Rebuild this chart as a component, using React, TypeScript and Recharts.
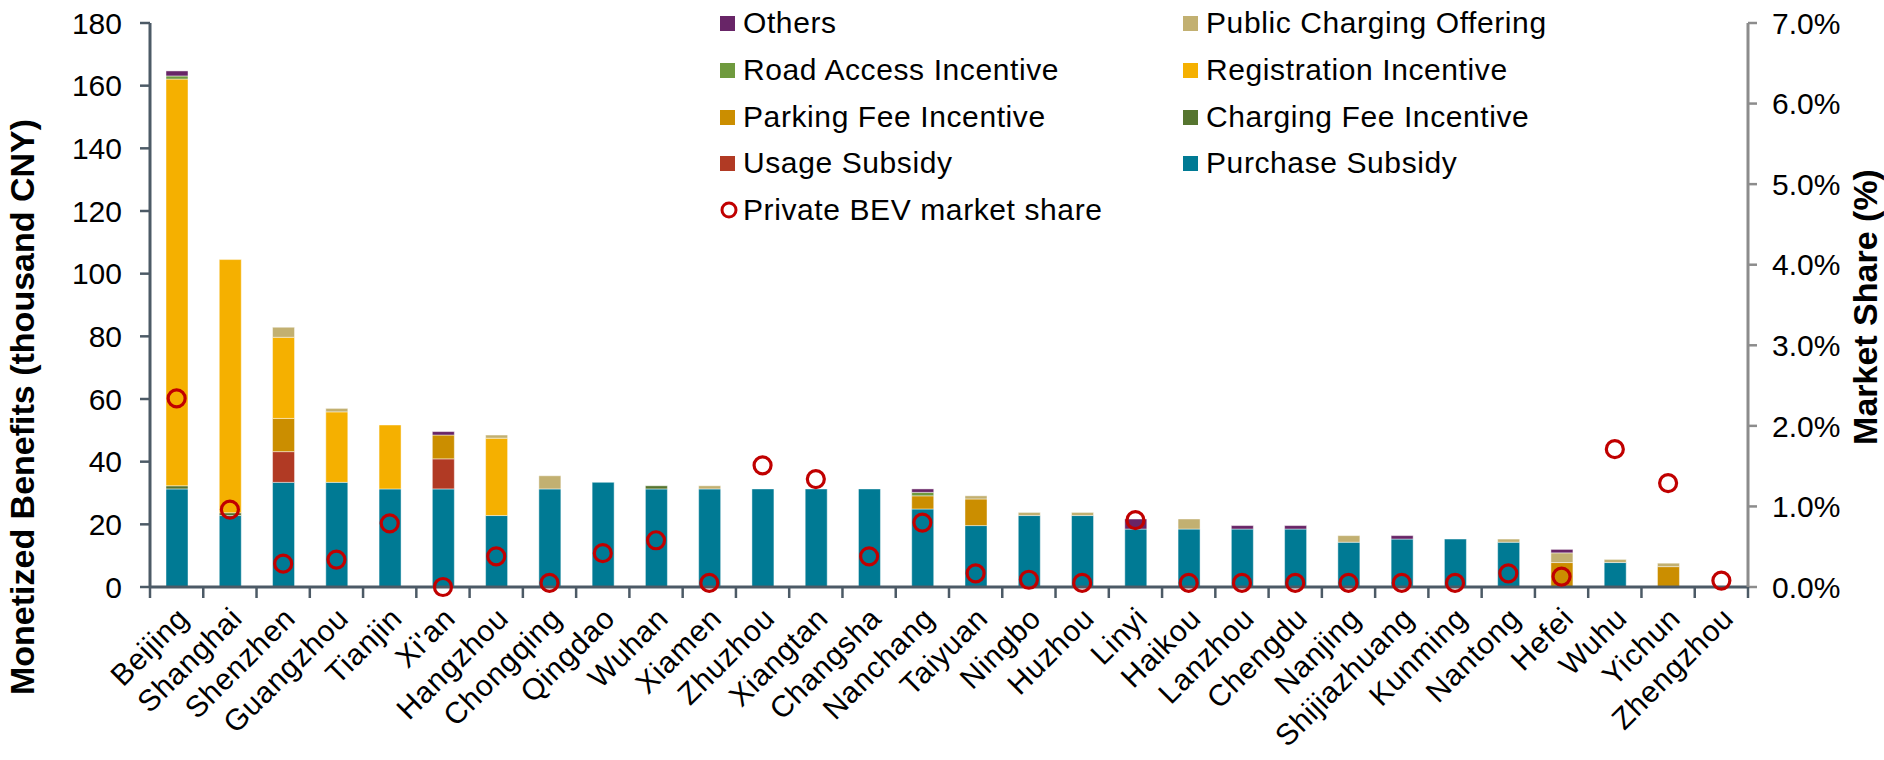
import React from "react";
import {
  ComposedChart,
  Bar,
  Line,
  XAxis,
  YAxis,
  Legend,
} from "recharts";

// cities in the order shown
const cities = [
  "Beijing", "Shanghai", "Shenzhen", "Guangzhou", "Tianjin", "Xi'an",
  "Hangzhou", "Chongqing", "Qingdao", "Wuhan", "Xiamen", "Zhuzhou",
  "Xiangtan", "Changsha", "Nanchang", "Taiyuan", "Ningbo", "Huzhou",
  "Linyi", "Haikou", "Lanzhou", "Chengdu", "Nanjing", "Shijiazhuang",
  "Kunming", "Nantong", "Hefei", "Wuhu", "Yichun", "Zhengzhou",
];

// thousand CNY
const purchase = [
  31.3, 22.8, 33.4, 33.4, 31.3, 31.3, 22.8, 31.3, 33.4, 31.3,
  31.3, 31.3, 31.3, 31.3, 24.9, 19.6, 22.8, 22.8, 18.5, 18.5,
  18.5, 18.5, 14.3, 15.3, 15.3, 14.3, 0, 7.8, 0, 0,
];
const usage = [
  0, 0, 9.8, 0, 0, 9.6, 0, 0, 0, 0,
  0, 0, 0, 0, 0, 0, 0, 0, 0, 0,
  0, 0, 0, 0, 0, 0, 0, 0, 0, 0,
];
const chargingFee = [
  1.0, 0.9, 0, 0, 0, 0, 0, 0, 0, 1.0,
  0, 0, 0, 0, 0, 0, 0, 0, 0, 0,
  0, 0, 0, 0, 0, 0, 0, 0, 0, 0,
];
const parking = [
  0, 0, 10.6, 0, 0, 7.6, 0, 0, 0, 0,
  0, 0, 0, 0, 4.2, 8.5, 0, 0, 0, 0,
  0, 0, 0, 0, 0, 0, 7.8, 0, 6.5, 0,
];
const registration = [
  129.8, 80.8, 25.9, 22.5, 20.4, 0, 24.7, 0, 0, 0,
  0, 0, 0, 0, 0, 0, 0, 0, 0, 0,
  0, 0, 0, 0, 0, 0, 0, 0, 0, 0,
];
const roadAccess = [
  1.0, 0, 0, 0, 0, 0, 0, 0, 0, 0,
  0, 0, 0, 0, 1.1, 0, 0, 0, 0, 0,
  0, 0, 0, 0, 0, 0, 0, 0, 0, 0,
];
const publicCharging = [
  0, 0, 3.2, 1.1, 0, 0, 1.0, 4.2, 0, 0,
  1.0, 0, 0, 0, 0, 1.0, 1.0, 1.0, 0, 3.2,
  0, 0, 2.1, 0, 0, 1.0, 3.1, 1.0, 1.1, 0,
];
const others = [
  1.6, 0, 0, 0, 0, 1.1, 0, 0, 0, 0,
  0, 0, 0, 0, 1.1, 0, 0, 0, 3.2, 0,
  1.1, 1.1, 0, 1.1, 0, 0, 1.1, 0, 0, 0,
];
// private BEV market share, %
const share = [
  2.34, 0.96, 0.29, 0.34, 0.79, 0.0, 0.38, 0.05, 0.42, 0.58,
  0.05, 1.51, 1.34, 0.38, 0.8, 0.17, 0.09, 0.05, 0.83, 0.05,
  0.05, 0.05, 0.05, 0.05, 0.05, 0.17, 0.13, 1.71, 1.29, 0.08,
];

const leftTicks = [0, 20, 40, 60, 80, 100, 120, 140, 160, 180];
const rightTicks = [0, 1, 2, 3, 4, 5, 6, 7];

// stacking order, bottom to top
const series = [
  { key: "purchase", name: "Purchase Subsidy", color: "#007a94", values: purchase },
  { key: "usage", name: "Usage Subsidy", color: "#b13a24", values: usage },
  { key: "chargingFee", name: "Charging Fee Incentive", color: "#56752f", values: chargingFee },
  { key: "parking", name: "Parking Fee Incentive", color: "#cb8e00", values: parking },
  { key: "registration", name: "Registration Incentive", color: "#f5b000", values: registration },
  { key: "roadAccess", name: "Road Access Incentive", color: "#6f9a3e", values: roadAccess },
  { key: "publicCharging", name: "Public Charging Offering", color: "#c2b071", values: publicCharging },
  { key: "others", name: "Others", color: "#682567", values: others },
];

const data = cities.map((city, i) => {
  const row: Record<string, string | number> = { city, share: share[i] };
  series.forEach((s) => (row[s.key] = s.values[i]));
  return row;
});

const W = 1884;
const H = 760;
const PLOT_LEFT = 150;
const PLOT_RIGHT = 1748;
const PLOT_TOP = 23;
const PLOT_BOTTOM = 587;
const BAND = (PLOT_RIGHT - PLOT_LEFT) / cities.length;
const FONT = '"Liberation Sans", Arial, Helvetica, sans-serif';
const AXIS_DARK = "#4c5a66";
const AXIS_GREY = "#8c8c8c";
const RED = "#c00000";

const XTick = (props: any) => {
  const { x, payload, index } = props;
  const ty = PLOT_BOTTOM + 18;
  const tx = x - 1;
  return (
    <g>
      <line x1={x - BAND / 2} x2={x - BAND / 2} y1={PLOT_BOTTOM} y2={PLOT_BOTTOM + 11} stroke={AXIS_DARK} strokeWidth={2.5} />
      {index === cities.length - 1 && (
        <line x1={x + BAND / 2} x2={x + BAND / 2} y1={PLOT_BOTTOM} y2={PLOT_BOTTOM + 11} stroke={AXIS_DARK} strokeWidth={2.5} />
      )}
      <text
        x={tx}
        y={ty}
        dy="0.71em"
        textAnchor="end"
        transform={`rotate(-45 ${tx} ${ty})`}
        fontSize={30}
        letterSpacing={0.8}
        fontFamily={FONT}
        fill="#000"
      >
        {payload.value}
      </text>
    </g>
  );
};

const ShareDot = (props: any) => {
  const { cx, cy, index } = props;
  if (cx == null || cy == null) return <g key={index} />;
  return <circle key={index} cx={cx} cy={cy} r={8.5} fill="none" stroke={RED} strokeWidth={3.2} />;
};

const legendOrder = [...series].reverse();
const COL_X = [720, 1183];
const ROW_Y = [23, 70, 117, 163, 210];

const renderLegend = () => {
  const items = [
    ...legendOrder.map((s) => ({ name: s.name, color: s.color, circle: false })),
    { name: "Private BEV market share", color: RED, circle: true },
  ];
  return (
    <div style={{ position: "relative", width: 0, height: 0 }}>
      {items.map((it, i) => {
        const col = i % 2;
        const row = Math.floor(i / 2);
        return (
          <div
            key={it.name}
            style={{
              position: "absolute",
              left: COL_X[col],
              top: ROW_Y[row] - 18,
              height: 36,
              display: "flex",
              alignItems: "center",
              whiteSpace: "nowrap",
              fontFamily: FONT,
              fontSize: 30,
              letterSpacing: 0.6,
              color: "#000",
            }}
          >
            {it.circle ? (
              <svg width={18} height={18} style={{ marginRight: 5 }}>
                <circle cx={9} cy={9} r={7} fill="none" stroke={it.color} strokeWidth={3} />
              </svg>
            ) : (
              <span style={{ display: "inline-block", width: 15, height: 15, background: it.color, marginRight: 8 }} />
            )}
            {it.name}
          </div>
        );
      })}
    </div>
  );
};

const leftTitle = () => (
  <text
    x={22}
    y={407}
    transform="rotate(-90 22 407)"
    textAnchor="middle"
    dominantBaseline="central"
    fontSize={34}
    fontWeight="bold"
    fontFamily={FONT}
    fill="#000"
  >
    Monetized Benefits (thousand CNY)
  </text>
);

const rightTitle = () => (
  <text
    x={1865}
    y={307}
    transform="rotate(-90 1865 307)"
    textAnchor="middle"
    dominantBaseline="central"
    fontSize={34}
    fontWeight="bold"
    fontFamily={FONT}
    fill="#000"
  >
    Market Share (%)
  </text>
);

export default function App() {
  return (
    <div style={{ position: "absolute", left: 0, top: 0, width: W, height: H, background: "#fff" }}>
      <ComposedChart
        width={W}
        height={H}
        data={data}
        margin={{ top: PLOT_TOP, right: 0, bottom: 0, left: 0 }}
        barSize={22}
      >
        <XAxis
          dataKey="city"
          interval={0}
          height={H - PLOT_BOTTOM}
          axisLine={{ stroke: AXIS_DARK, strokeWidth: 3 }}
          tickLine={false}
          tick={<XTick />}
        />
        <YAxis
          yAxisId="left"
          domain={[0, 180]}
          ticks={leftTicks}
          width={PLOT_LEFT}
          interval={0}
          axisLine={{ stroke: AXIS_DARK, strokeWidth: 3 }}
          tickLine={{ stroke: AXIS_DARK, strokeWidth: 2.5 }}
          tickSize={10}
          tickMargin={18}
          tick={{ fill: "#000", fontSize: 30, fontFamily: FONT }}
          label={{ content: leftTitle }}
        />
        <YAxis
          yAxisId="right"
          orientation="right"
          domain={[0, 7]}
          ticks={rightTicks}
          width={W - PLOT_RIGHT}
          interval={0}
          axisLine={{ stroke: AXIS_GREY, strokeWidth: 3 }}
          tickLine={{ stroke: AXIS_GREY, strokeWidth: 2.5 }}
          tickSize={9}
          tickMargin={15}
          tick={{ fill: "#000", fontSize: 30, fontFamily: FONT }}
          tickFormatter={(v: number) => `${v.toFixed(1)}%`}
          label={{ content: rightTitle }}
        />
        <Legend content={renderLegend} wrapperStyle={{ top: 0, left: 0, width: 0, height: 0 }} />
        {series.map((s) => (
          <Bar
            key={s.key}
            yAxisId="left"
            dataKey={s.key}
            name={s.name}
            stackId="benefits"
            fill={s.color}
            stroke="rgba(255,255,255,0.45)"
            strokeWidth={1}
            isAnimationActive={false}
          />
        ))}
        <Line
          yAxisId="right"
          dataKey="share"
          name="Private BEV market share"
          stroke="none"
          dot={ShareDot}
          activeDot={false}
          isAnimationActive={false}
        />
      </ComposedChart>
    </div>
  );
}
